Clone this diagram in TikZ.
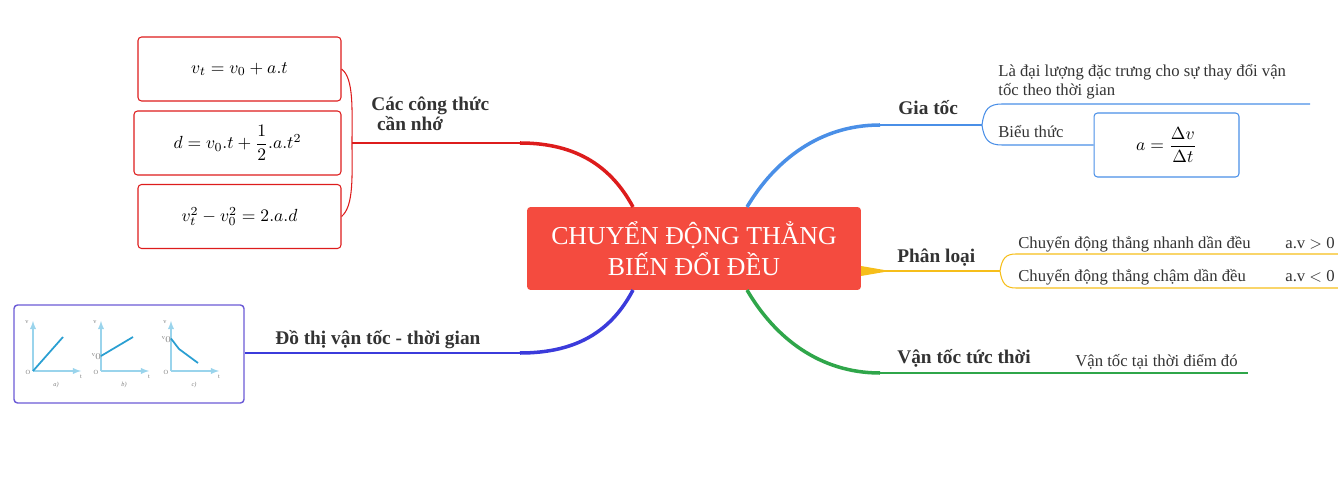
\documentclass[tikz,border=0pt]{standalone}
\usepackage{amsmath}
\usepackage{fontspec}
\setmainfont{Liberation Serif}
\definecolor{rootred}{HTML}{F44B3F}
\definecolor{brred}{HTML}{DD1C1C}
\definecolor{brblue}{HTML}{4A8FE7}
\definecolor{brviolet}{HTML}{3B3BDB}
\definecolor{boxviolet}{HTML}{6B5BD6}
\definecolor{bryellow}{HTML}{F6BE1A}
\definecolor{brgreen}{HTML}{2FA64A}
\definecolor{txt}{HTML}{333333}
\definecolor{axis}{HTML}{9AD4EC}
\definecolor{plot}{HTML}{2A9FD2}
\tikzset{
  branch/.style={font=\fontsize{11}{11.3}\selectfont\bfseries, text=txt, inner sep=0pt, anchor=base west},
  leaf/.style={font=\fontsize{9.5}{10.8}\selectfont, text=txt, inner sep=0pt, anchor=base west},
  formbox/.style={draw=brred, rounded corners=2pt, line width=0.6pt, minimum height=1.28cm, font=\fontsize{10}{12}\selectfont},
  tiny/.style={font=\fontsize{3.6}{4}\selectfont, text=gray, inner sep=0pt}
}
\begin{document}
\begin{tikzpicture}[x=0.02cm, y=-0.02cm]
	\useasboundingbox (0,0) rectangle (1338,479);
	% root
	\node [fill=rootred, rounded corners=2pt, minimum width=6.68cm, minimum height=1.66cm, text=white, align=center, font=\fontsize{14.7}{18}\selectfont] (root) at (694,248.5) {CHUYỂN ĐỘNG THẲNG\\BIẾN ĐỔI ĐỀU};

	% red branch: cac cong thuc
	\node [formbox, minimum width=4.06cm] (f1) at (239.5,69) {$v_t = v_0 + a.t$};
	\node [formbox, minimum width=4.14cm] (f2) at (237.5,143) {$d = v_0.t + \dfrac{1}{2}.a.t^2$};
	\node [formbox, minimum width=4.06cm] (f3) at (239.5,216.5) {$v_t^2 - v_0^2 = 2.a.d$};
	\node [branch, align=left, anchor=north west] (congthuc) at (371,97) {Các công thức\\\hspace{0.3em}cần nhớ};
	\coordinate (redstart) at (633,207);
	\coordinate (redbend) at (520,143);
	\coordinate (redfork) at (352,143);
	\draw [brred, line width=2pt] (redstart) .. controls (612,168) and (578,143) .. (redbend);
	\draw [brred, line width=0.8pt] (redbend) -- (redfork);
	\draw [brred, line width=0.6pt] (f1.east) .. controls (354,78) and (352,110) .. (redfork) .. controls (352,176) and (354,206) .. (f3.east);

	% violet branch: do thi
	\node [draw=boxviolet, rounded corners=2pt, line width=0.8pt, minimum width=4.6cm, minimum height=1.96cm] (graphs) at (129,354) {};
	\foreach \ox/\lab in {33/a,101/b,171/c} {
		\draw [axis, line width=0.6pt, -latex] (\ox,371) -- (\ox,321);
		\draw [axis, line width=0.6pt, -latex] (\ox,371) -- (\ox+48,371);
		\node [tiny] (v\lab) at (\ox-6,322.5) {v};
		\node [tiny] (o\lab) at (\ox-5,372.5) {O};
		\node [tiny] (t\lab) at (\ox+48,376.5) {t};
		\node [tiny, font=\fontsize{3.6}{4}\selectfont\itshape] (n\lab) at (\ox+23,384.5) {\lab)};
	}
	\draw [plot, line width=1pt] (33,371) -- (63,337);
	\draw [plot, line width=1pt] (101,356) -- (133,337);
	\draw [plot, line width=1pt] (171,338.5) -- (179,349) -- (198,363);
	\node [tiny] (v0b) at (97,356.5) {v$_0$};
	\node [tiny] (v0c) at (167,339.5) {v$_0$};
	\node [branch] (dothi) at (275,344) {Đồ thị vận tốc - thời gian};
	\coordinate (violetstart) at (633,290);
	\coordinate (violetbend) at (520,353);
	\draw [brviolet, line width=2pt] (violetstart) .. controls (612,330) and (578,353) .. (violetbend);
	\draw [brviolet, line width=0.8pt] (violetbend) -- (graphs.east |- violetbend);

	% blue branch: gia toc
	\node [branch] (giatoc) at (898,115) {Gia tốc};
	\node [leaf, align=left, anchor=north west] (dinhnghia) at (998,64) {Là đại lượng đặc trưng cho sự thay đổi vận\\tốc theo thời gian};
	\node [leaf] (bieuthuc) at (998,138) {Biểu thức};
	\node [draw=brblue, rounded corners=2pt, line width=0.6pt, minimum width=2.9cm, minimum height=1.28cm, font=\fontsize{10}{12}\selectfont] (accel) at (1166.5,145) {$a = \dfrac{\Delta v}{\Delta t}$};
	\coordinate (bluestart) at (747,207);
	\coordinate (bluebend) at (880,125);
	\coordinate (bluefork) at (982,125);
	\coordinate (blueend) at (1310,104);
	\draw [brblue, line width=2pt] (bluestart) .. controls (775,160) and (820,125) .. (bluebend);
	\draw [brblue, line width=0.8pt] (bluebend) -- (bluefork);
	\draw [brblue, line width=0.6pt] (bluefork) .. controls (984,109) and (989,104) .. (1002,104) -- (blueend);
	\draw [brblue, line width=0.6pt] (bluefork) .. controls (984,140) and (989,145) .. (1002,145) -- (accel.west);

	% yellow branch: phan loai
	\node [branch] (phanloai) at (897,263) {Phân loại};
	\node [leaf] (nhanh) at (1018,249) {Chuyển động thẳng nhanh dần đều};
	\node [leaf] (nhanhdk) at (1285,249) {a.v $>$ 0};
	\node [leaf] (cham) at (1018,282) {Chuyển động thẳng chậm dần đều};
	\node [leaf] (chamdk) at (1285,282) {a.v $<$ 0};
	\coordinate (yelstart) at (861,271);
	\coordinate (yelbend) at (890,271);
	\coordinate (yelfork) at (1000,271);
	\coordinate (yelup) at (1338,254);
	\coordinate (yeldown) at (1338,288);
	\fill [bryellow] (861,266) -- (yelbend) -- (861,276) -- cycle;
	\draw [bryellow, line width=0.8pt] (yelstart) -- (yelfork);
	\draw [bryellow, line width=0.6pt] (yelfork) .. controls (1002,258) and (1006,254) .. (1016,254) -- (yelup);
	\draw [bryellow, line width=0.6pt] (yelfork) .. controls (1002,284) and (1006,288) .. (1016,288) -- (yeldown);

	% green branch: van toc tuc thoi
	\node [branch] (tucthoi) at (897,363) {Vận tốc tức thời};
	\node [leaf] (tucthoidn) at (1075,366) {Vận tốc tại thời điểm đó};
	\coordinate (greenstart) at (747,290);
	\coordinate (greenbend) at (880,373);
	\coordinate (greenend) at (1248,373);
	\draw [brgreen, line width=2pt] (greenstart) .. controls (775,338) and (820,373) .. (greenbend);
	\draw [brgreen, line width=0.8pt] (greenbend) -- (greenend);
\end{tikzpicture}
\end{document}
